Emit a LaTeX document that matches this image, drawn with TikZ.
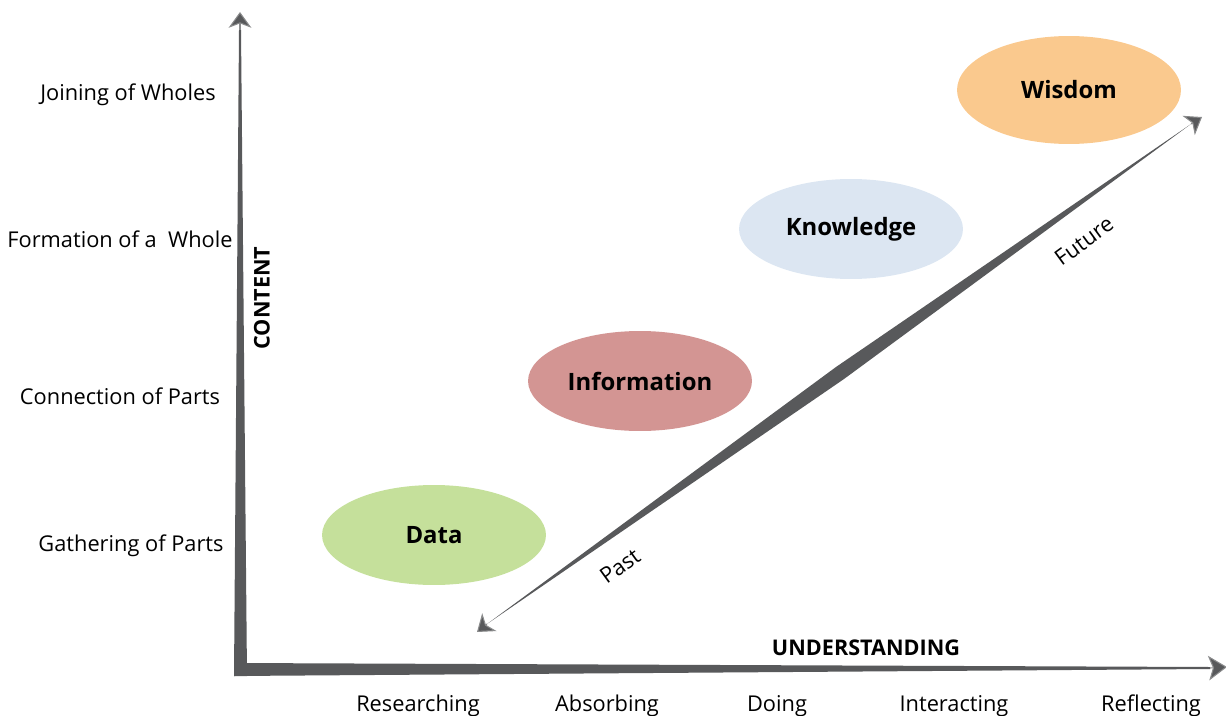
\documentclass[tikz,border=0pt]{standalone}
\usepackage{fontspec}
\setmainfont{Open Sans}
\usetikzlibrary{arrows.meta,shapes.geometric}
\definecolor{axisgrey}{RGB}{88,89,91}
\definecolor{datagreen}{RGB}{197,224,155}
\definecolor{inforose}{RGB}{211,149,147}
\definecolor{knowblue}{RGB}{220,230,242}
\definecolor{wisorange}{RGB}{250,201,142}

\begin{document}
\begin{tikzpicture}[x=0.02cm, y=-0.02cm,
  lbl/.style={font=\fontsize{12.4}{14}\selectfont, inner sep=1pt},
  axlbl/.style={font=\bfseries\fontsize{12.3}{14}\selectfont, inner sep=1pt},
  blob/.style={ellipse, minimum width=4.48cm, minimum height=2.0cm, inner sep=0pt,
    font=\bfseries\fontsize{13.6}{16}\selectfont},
  tipline/.style={draw=axisgrey!70, line width=0.6pt,
    -{Stealth[length=9pt, width=13pt, inset=2.5pt, fill=axisgrey]}},
  wedge/.style={fill=axisgrey, draw=none}
]
\useasboundingbox (0,0) rectangle (1226,716);

% axes
\coordinate (corner) at (234,676);
\coordinate (ytop) at (240,30);
\coordinate (ytip) at (240,12);
\coordinate (xend) at (1210,668);
\coordinate (xtip) at (1227,667);
\fill[wedge] (corner) -- (247,676) -- (241,30) -- (239,30) -- cycle;
\fill[wedge] (corner) -- (234,663) -- (1210,667) -- (1210,669) -- cycle;
\draw[tipline] (ytop) -- (ytip);
\draw[tipline, -{Stealth[length=10.5pt, width=14pt, inset=2.5pt, fill=axisgrey]}] (xend) -- (xtip);

% time arrow
\coordinate (pastend) at (487,624);
\coordinate (pasttip) at (477,632);
\coordinate (futend) at (1191,124);
\coordinate (futtip) at (1202,117);
\fill[wedge] (pastend) -- (844,379) -- (futend) -- (836,367) -- cycle;
\draw[tipline] (pastend) -- (pasttip);
\draw[tipline] (futend) -- (futtip);

% stages
\node[blob, fill=datagreen] (ndata) at (434,535) {Data};
\node[blob, fill=inforose] (ninfo) at (640,381) {Information};
\node[blob, fill=knowblue] (nknow) at (851,229) {Knowledge};
\node[blob, fill=wisorange, minimum height=2.16cm] (nwis) at (1069,90) {Wisdom};

% content levels
\node[lbl] (ljoin) at (128,95) {Joining of Wholes};
\node[lbl] (lform) at (120,239) {Formation of a\ \ Whole};
\node[lbl] (lconn) at (120,396) {Connection of Parts};
\node[lbl] (lgath) at (131,546) {Gathering of Parts};
\node[axlbl, rotate=90] (lcontent) at (262,298) {CONTENT};

% understanding levels
\node[lbl] (lres) at (418,706) {Researching};
\node[lbl] (labs) at (607,706) {Absorbing};
\node[lbl] (ldo) at (777,706) {Doing};
\node[lbl] (lint) at (954,706) {Interacting};
\node[lbl] (lref) at (1151,706) {Reflecting};
\node[axlbl] (lunder) at (866,648) {UNDERSTANDING};

\node[lbl, rotate=36] (lpast) at (620,566) {Past};
\node[lbl, rotate=36] (lfut) at (1084,241) {Future};

\end{tikzpicture}
\end{document}
